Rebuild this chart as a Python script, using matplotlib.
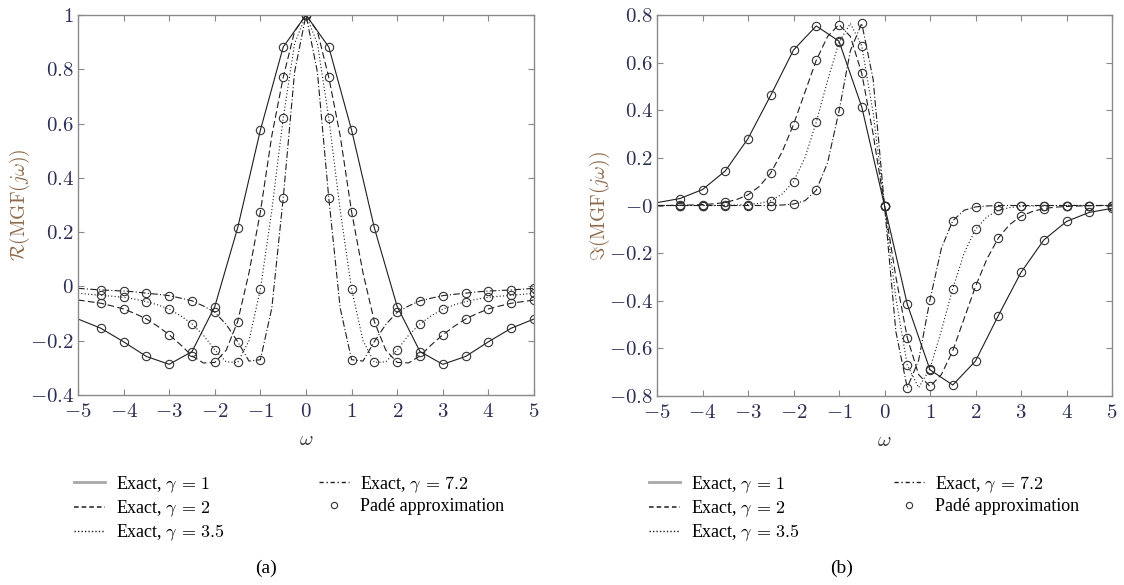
import matplotlib
matplotlib.use("Agg")
import matplotlib.pyplot as plt
from matplotlib.lines import Line2D
import numpy as np

plt.rcParams['mathtext.fontset'] = 'cm'
plt.rcParams['font.family'] = ['Liberation Serif', 'DejaVu Serif']

# frequency grids
w_coarse = np.linspace(-5, 5, 21)      # exact gamma=1 (0.5 step)
w_fine = np.linspace(-5, 5, 41)        # exact gamma=2, 3.5, 7.2 (0.25 step)
w_pade = np.linspace(-4.5, 5, 20)      # Pade markers

# ---- real part ----
re_g1 = [-0.12, -0.154, -0.204, -0.258, -0.287, -0.24, -0.074, 0.215, 0.576, 0.882, 1.0,
         0.882, 0.576, 0.215, -0.074, -0.24, -0.287, -0.258, -0.204, -0.154, -0.12]
re_g2 = [-0.05, -0.056, -0.062, -0.072, -0.083, -0.10, -0.12, -0.147, -0.178, -0.215, -0.256,
         -0.282, -0.28, -0.235, -0.13, 0.05, 0.275, 0.555, 0.77, 0.94, 1.0,
         0.94, 0.77, 0.555, 0.275, 0.05, -0.13, -0.235, -0.28, -0.282, -0.256,
         -0.215, -0.178, -0.147, -0.12, -0.10, -0.083, -0.072, -0.062, -0.056, -0.05]
re_g35 = [-0.025, -0.029, -0.033, -0.036, -0.04, -0.047, -0.056, -0.068, -0.084, -0.108, -0.138,
          -0.18, -0.234, -0.278, -0.28, -0.20, -0.01, 0.28, 0.62, 0.895, 1.0,
          0.895, 0.62, 0.28, -0.01, -0.20, -0.28, -0.278, -0.234, -0.18, -0.138,
          -0.108, -0.084, -0.068, -0.056, -0.047, -0.04, -0.036, -0.033, -0.029, -0.025]
re_g72 = [-0.007, -0.01, -0.013, -0.015, -0.017, -0.02, -0.025, -0.029, -0.034, -0.043, -0.053,
          -0.072, -0.095, -0.14, -0.203, -0.275, -0.27, -0.08, 0.325, 0.79, 1.0,
          0.79, 0.325, -0.08, -0.27, -0.275, -0.203, -0.14, -0.095, -0.072, -0.053,
          -0.043, -0.034, -0.029, -0.025, -0.02, -0.017, -0.015, -0.013, -0.01, -0.007]

pade_re_g1 = [-0.154, -0.204, -0.258, -0.287, -0.24, -0.074, 0.215, 0.576, 0.882, 1.0,
              0.882, 0.576, 0.215, -0.074, -0.24, -0.287, -0.258, -0.204, -0.154, -0.12]
pade_re_g2 = [-0.062, -0.083, -0.12, -0.178, -0.256, -0.28, -0.13, 0.275, 0.77, 1.0,
              0.77, 0.275, -0.13, -0.28, -0.256, -0.178, -0.12, -0.083, -0.062, -0.05]
pade_re_g35 = [-0.033, -0.04, -0.056, -0.084, -0.138, -0.234, -0.28, -0.01, 0.62, 1.0,
               0.62, -0.01, -0.28, -0.234, -0.138, -0.084, -0.056, -0.04, -0.033, -0.025]
pade_re_g72 = [-0.013, -0.017, -0.025, -0.034, -0.053, -0.095, -0.203, -0.27, 0.325, 1.0,
               0.325, -0.27, -0.203, -0.095, -0.053, -0.034, -0.025, -0.017, -0.013, -0.007]

# ---- imaginary part ----
im_g1 = [0.012, 0.029, 0.067, 0.145, 0.281, 0.463, 0.653, 0.754, 0.69, 0.414, 0.0,
         -0.414, -0.69, -0.754, -0.653, -0.463, -0.281, -0.145, -0.067, -0.029, -0.012]
im_g2 = [0.0, 0.0, 0.001, 0.002, 0.004, 0.007, 0.013, 0.025, 0.045, 0.08, 0.137,
         0.225, 0.34, 0.475, 0.61, 0.71, 0.76, 0.71, 0.555, 0.30, 0.0,
         -0.30, -0.555, -0.71, -0.76, -0.71, -0.61, -0.475, -0.34, -0.225, -0.137,
         -0.08, -0.045, -0.025, -0.013, -0.007, -0.004, -0.002, -0.001, 0.0, 0.0]
im_g35 = [0.0, 0.0, 0.0, 0.0, 0.0, 0.0, 0.001, 0.002, 0.004, 0.009, 0.02,
          0.048, 0.10, 0.20, 0.35, 0.525, 0.685, 0.765, 0.67, 0.39, 0.0,
          -0.39, -0.67, -0.765, -0.685, -0.525, -0.35, -0.20, -0.10, -0.048, -0.02,
          -0.009, -0.004, -0.002, -0.001, 0.0, 0.0, 0.0, 0.0, 0.0, 0.0]
im_g72 = [0.0, 0.0, 0.0, 0.0, 0.0, 0.0, 0.0, 0.0, 0.0, 0.0, 0.0,
          0.002, 0.006, 0.02, 0.064, 0.18, 0.396, 0.65, 0.765, 0.53, 0.0,
          -0.53, -0.765, -0.65, -0.396, -0.18, -0.064, -0.02, -0.006, -0.002, 0.0,
          0.0, 0.0, 0.0, 0.0, 0.0, 0.0, 0.0, 0.0, 0.0, 0.0]

pade_im_g1 = [0.029, 0.067, 0.145, 0.281, 0.463, 0.653, 0.754, 0.69, 0.414, 0.0,
              -0.414, -0.69, -0.754, -0.653, -0.463, -0.281, -0.145, -0.067, -0.029, -0.012]
pade_im_g2 = [0.001, 0.004, 0.013, 0.045, 0.137, 0.34, 0.61, 0.76, 0.555, 0.0,
              -0.555, -0.76, -0.61, -0.34, -0.137, -0.045, -0.013, -0.004, -0.001, 0.0]
pade_im_g35 = [0.0, 0.0, 0.001, 0.004, 0.02, 0.10, 0.35, 0.685, 0.67, 0.0,
               -0.67, -0.685, -0.35, -0.10, -0.02, -0.004, -0.001, 0.0, 0.0, 0.0]
pade_im_g72 = [0.0, 0.0, 0.0, 0.0, 0.0, 0.006, 0.064, 0.396, 0.765, 0.0,
               -0.765, -0.396, -0.064, -0.006, 0.0, 0.0, 0.0, 0.0, 0.0, 0.0]

legend_labels = [r'Exact, $\gamma\,=\,1$', r'Exact, $\gamma\,=\,2$', r'Exact, $\gamma\,=\,3.5$',
                 r'Exact, $\gamma\,=\,7.2$', 'Padé approximation']

line_col = '#1e1e1e'
tick_col = '#2c2f55'
lab_col = '#8e6a4c'
frame_col = '#8a8a8a'
styles = [dict(ls='-'), dict(ls=(0, (6, 3))), dict(ls=(0, (1, 2))), dict(ls=(0, (6, 2, 1, 2)))]


def fmt(v, pos):
    return r'$%g$' % round(v, 2)


fig = plt.figure(figsize=(11.24, 5.85), dpi=100)
ax1 = fig.add_axes([78/1124, 1-395/585, 456/1124, 380/585])
ax2 = fig.add_axes([657/1124, 1-396/585, 455/1124, 381/585])

panels = [
    (ax1, [re_g1, re_g2, re_g35, re_g72], [pade_re_g1, pade_re_g2, pade_re_g35, pade_re_g72],
     (-0.4, 1), np.arange(-0.4, 1.01, 0.2), r'$\mathcal{R}(\mathrm{MGF}(j\omega))$'),
    (ax2, [im_g1, im_g2, im_g35, im_g72], [pade_im_g1, pade_im_g2, pade_im_g35, pade_im_g72],
     (-0.8, 0.8), np.arange(-0.8, 0.81, 0.2), r'$\Im(\mathrm{MGF}(j\omega))$'),
]

for ax, exact, pade, ylim, yt, ylab in panels:
    ax.plot(w_coarse, exact[0], color=line_col, lw=0.8, **styles[0])
    for k in range(1, 4):
        ax.plot(w_fine, exact[k], color=line_col, lw=0.8, **styles[k])
    for p in pade:
        ax.plot(w_pade, p, 'o', ms=6, mfc='none', mec='#333333', mew=0.8)
    ax.set_xlim(-5, 5)
    ax.set_ylim(*ylim)
    ax.set_xticks(np.arange(-5, 6, 1))
    ax.set_yticks(yt)
    ax.xaxis.set_major_formatter(plt.FuncFormatter(fmt))
    ax.yaxis.set_major_formatter(plt.FuncFormatter(fmt))
    ax.tick_params(direction='in', top=True, right=True, length=4, width=0.8,
                   color=frame_col, labelcolor=tick_col, labelsize=15)
    ax.tick_params(axis='x', pad=6)
    ax.tick_params(axis='y', pad=3)
    for s in ax.spines.values():
        s.set_color(frame_col)
        s.set_linewidth(1.0)
    ax.set_xlabel(r'$\omega$', fontsize=15, color='#333333')
    ax.xaxis.set_label_coords(0.5, -0.095)
    ax.set_ylabel(ylab, fontsize=14, color=lab_col)
    ax.yaxis.set_label_coords(-0.1, 0.5)

handles = [
    Line2D([], [], color='#a8a8a8', lw=2.0),
    Line2D([], [], color=line_col, lw=1.1, ls=(0, (3, 2))),
    Line2D([], [], color=line_col, lw=1.0, ls=(0, (1, 1.5))),
    Line2D([], [], color=line_col, lw=1.0, ls=(0, (3, 2, 1, 2))),
    Line2D([], [], ls='none', marker='o', ms=4.5, mfc='none', mec='#333333', mew=0.8),
]

for x0 in [74, 649]:
    fig.legend(handles, legend_labels, loc='upper left', bbox_to_anchor=(x0/1124, 1-474/585),
               ncol=2, frameon=False, fontsize=13, handlelength=1.7, handletextpad=0.6,
               columnspacing=5.2, labelspacing=0.2, borderpad=0, borderaxespad=0)

fig.text(266/1124, 1-568/585, '(a)', ha='center', va='center', fontsize=14)
fig.text(842/1124, 1-568/585, '(b)', ha='center', va='center', fontsize=14)

fig.savefig('out.png', dpi=100)
